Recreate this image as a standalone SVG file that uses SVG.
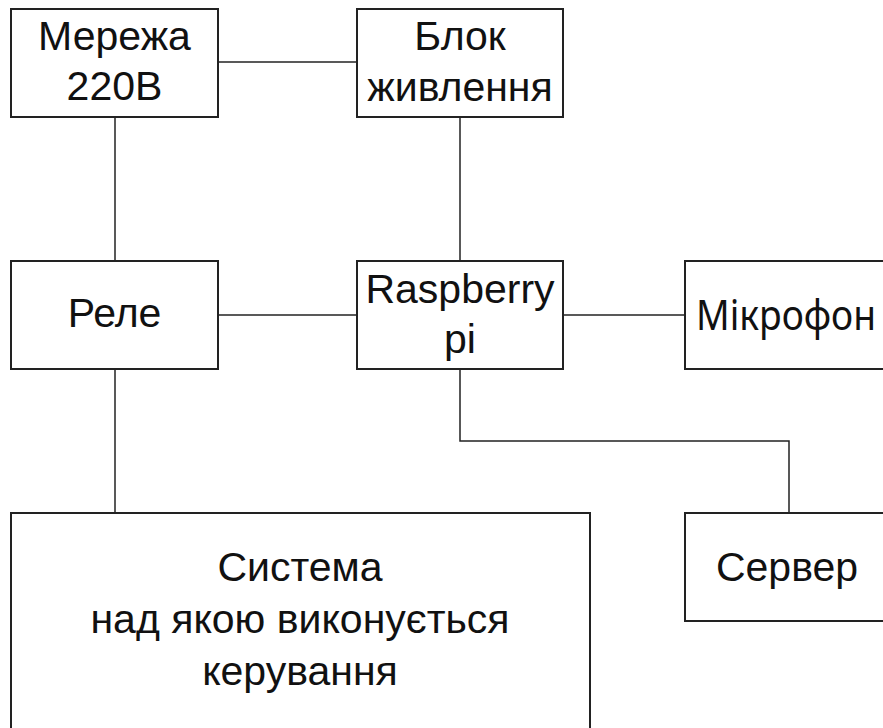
<svg xmlns="http://www.w3.org/2000/svg" width="883" height="728" viewBox="0 0 883 728">
<style>
.box{fill:#fff;stroke:#222;stroke-width:2}
.ln{fill:none;stroke:#222;stroke-width:1.5}
text{font-family:"Liberation Sans",Arial,sans-serif;font-size:41px;fill:#111;text-anchor:middle}
.alt{font-family:"Noto Sans","DejaVu Sans",sans-serif}
</style>
<rect width="883" height="728" fill="#fff"/>
<g id="connectors">
<line class="ln" x1="218" y1="62" x2="357" y2="62"/>
<line class="ln" x1="115" y1="117" x2="115" y2="261"/>
<line class="ln" x1="460" y1="117" x2="460" y2="261"/>
<line class="ln" x1="218" y1="315" x2="357" y2="315"/>
<line class="ln" x1="563" y1="315" x2="685" y2="315"/>
<path class="ln" d="M460,369 V441 H789 V513"/>
<line class="ln" x1="115" y1="369" x2="115" y2="513"/>
</g>
<g id="merezha">
<rect class="box" x="11" y="9" width="207" height="108"/>
<text x="114.5" y="50">Мережа</text>
<text x="114.5" y="100">220В</text>
</g>
<g id="blok">
<rect class="box" x="357" y="9" width="206" height="108"/>
<text x="460" y="50">Блок</text>
<text x="460" y="101">живлення</text>
</g>
<g id="rele">
<rect class="box" x="11" y="261" width="207" height="108"/>
<text x="114.5" y="327">Реле</text>
</g>
<g id="raspberry">
<rect class="box" x="357" y="261" width="206" height="108"/>
<text x="460" y="303">Raspberry</text>
<text x="460" y="353">pi</text>
</g>
<g id="mikrofon">
<rect class="box" x="685" y="261" width="206" height="108"/>
<text class="alt" x="786" y="330" textLength="180" lengthAdjust="spacingAndGlyphs">Мікрофон</text>
</g>
<g id="server">
<rect class="box" x="685" y="513" width="206" height="108"/>
<text x="787" y="581">Сервер</text>
</g>
<g id="systema">
<rect class="box" x="11" y="513" width="579" height="230"/>
<text x="300" y="581">Система</text>
<text x="300" y="633">над якою виконується</text>
<text x="300" y="685">керування</text>
</g>
</svg>
